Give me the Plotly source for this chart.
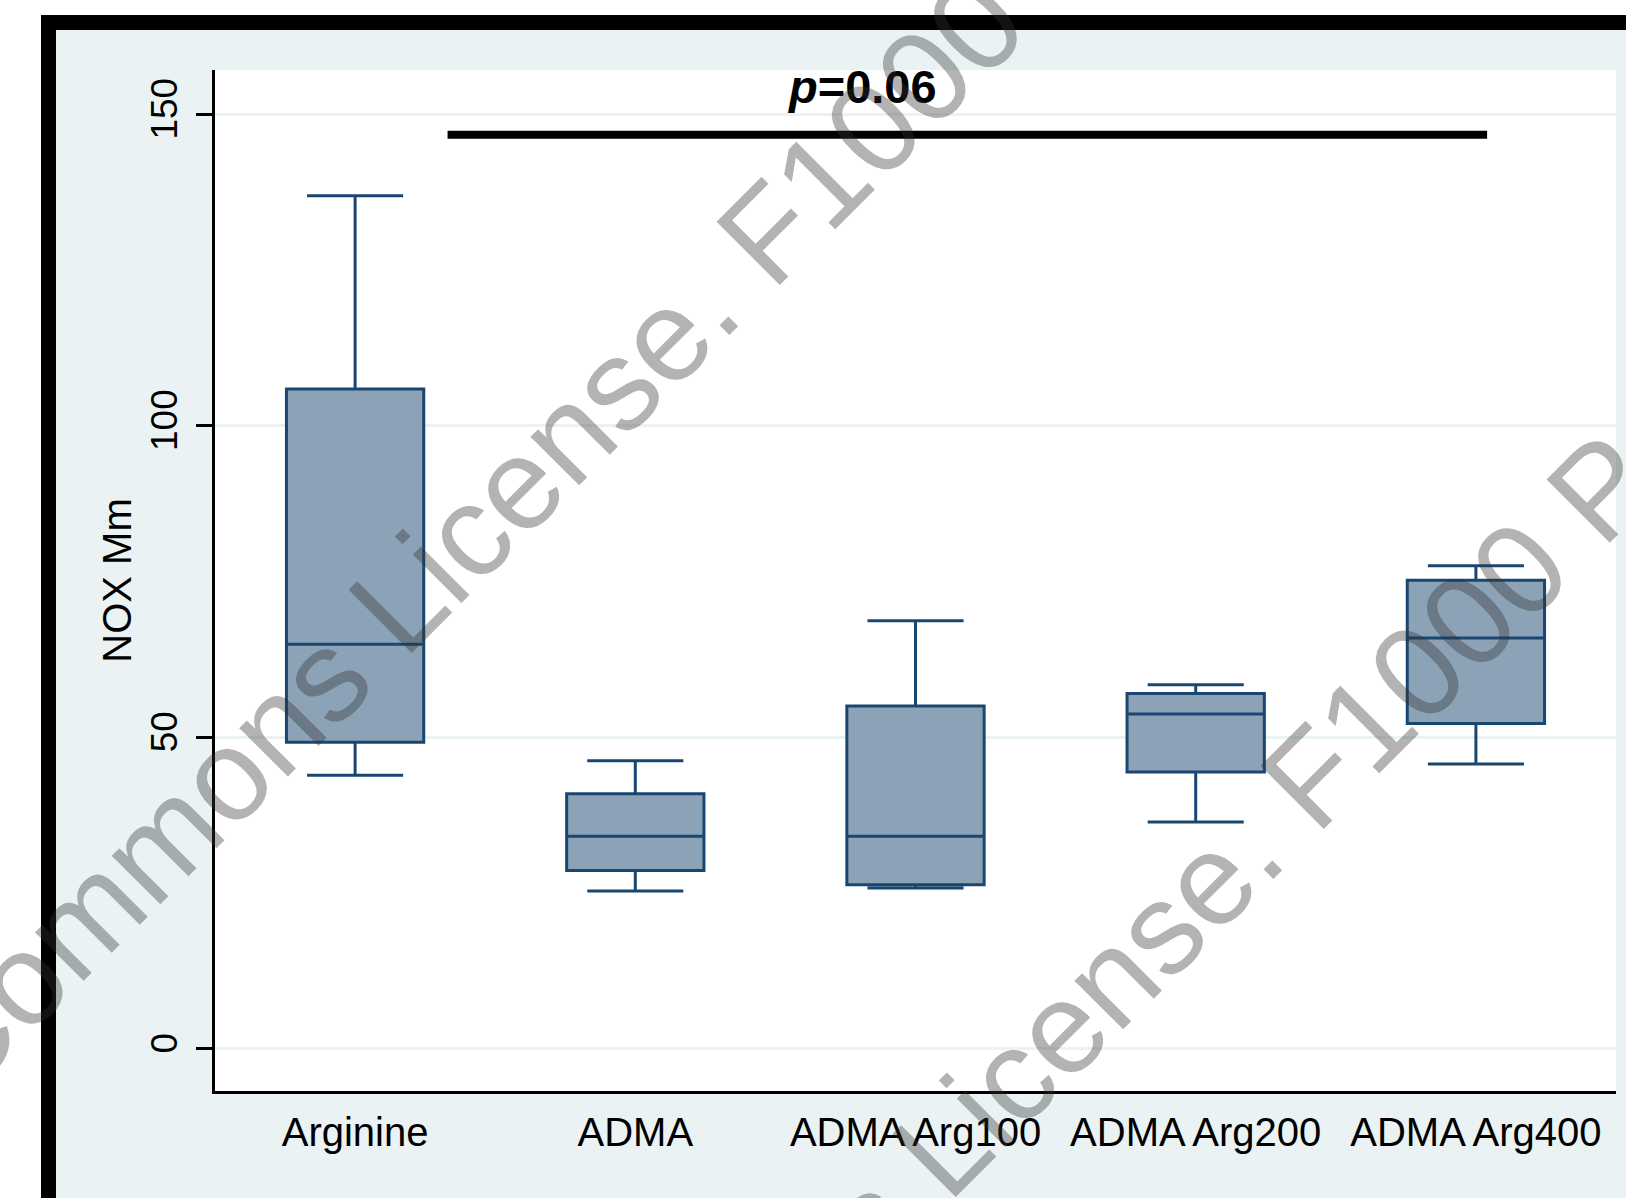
import plotly.graph_objects as go

# ---- data -------------------------------------------------------------
categories = ["Arginine", "ADMA", "ADMA Arg100", "ADMA Arg200", "ADMA Arg400"]
upper_whisker = [136.9, 46.2, 68.7, 58.4, 77.5]
q3_values = [105.9, 40.9, 55.0, 57.0, 75.2]
median_values = [64.9, 34.1, 34.1, 53.7, 65.9]
q1_values = [49.2, 28.6, 26.3, 44.4, 52.2]
lower_whisker = [43.9, 25.3, 25.8, 36.4, 45.7]

y_tick_values = [0, 50, 100, 150]
y_tick_labels = ["0", "50", "100", "150"]
y_title = "NOX Mm"

p_text = "<b><i>p</i>=0.06</b>"
p_bracket_x = [0.33, 4.04]     # category-index span of the comparison bar
p_bracket_y = 146.7
p_label_x = 1.81
p_label_y = 154.4

watermark_text = "Creative Commons License. F1000 Posters"

# ---- page geometry (pixels) -------------------------------------------
W, H = 1626, 1198
L, R, T, B = 215, 1616, 70, 1091          # plot-area edges


def paper_x(px):
    return (px - L) / (R - L)


def paper_y(py):
    return (B - py) / (B - T)


NAVY = "#1A476F"
FILL = "#8CA3B7"
REGION = "#EAF2F3"
FONT = "Liberation Sans, Arial, sans-serif"

fig = go.Figure()

fig.add_trace(go.Box(
    x=categories,
    q1=q1_values,
    median=median_values,
    q3=q3_values,
    lowerfence=lower_whisker,
    upperfence=upper_whisker,
    boxpoints=False,
    width=0.49,
    whiskerwidth=0.7,
    fillcolor=FILL,
    line=dict(color=NAVY, width=3),
    showlegend=False,
    hoverinfo="skip",
))

shapes = [
    # outer black frame
    dict(type="rect", xref="paper", yref="paper", layer="below",
         x0=paper_x(41), x1=paper_x(1800), y0=paper_y(1400), y1=paper_y(15),
         fillcolor="black", line=dict(width=0)),
    # graph region
    dict(type="rect", xref="paper", yref="paper", layer="below",
         x0=paper_x(56), x1=paper_x(1800), y0=paper_y(1400), y1=paper_y(30),
         fillcolor=REGION, line=dict(width=0)),
    # plot region
    dict(type="rect", xref="paper", yref="paper", layer="below",
         x0=0, x1=1, y0=0, y1=1, fillcolor="white", line=dict(width=0)),
    # comparison bar
    dict(type="line", xref="x", yref="y",
         x0=p_bracket_x[0], x1=p_bracket_x[1], y0=p_bracket_y, y1=p_bracket_y,
         line=dict(color="black", width=8)),
]

annotations = [
    dict(x=p_label_x, y=p_label_y, xref="x", yref="y", text=p_text,
         showarrow=False, xanchor="center", yanchor="middle",
         font=dict(family=FONT, size=47, color="black")),
]

# diagonal watermark lines
for cx, cy in [(449, 552), (993, 1096)]:
    annotations.append(dict(
        x=paper_x(cx), y=paper_y(cy), xref="paper", yref="paper",
        text=watermark_text, showarrow=False, textangle=-45,
        xanchor="center", yanchor="middle",
        font=dict(family=FONT, size=130, color="rgba(50,50,50,0.37)"),
    ))

fig.update_layout(
    width=W, height=H,
    margin=dict(l=L, r=W - R, t=T, b=H - B, pad=0),
    paper_bgcolor="white",
    plot_bgcolor="white",
    shapes=shapes,
    annotations=annotations,
    font=dict(family=FONT, color="black"),
)

fig.update_xaxes(
    type="category",
    range=[-0.5, 4.5],
    showline=True, linecolor="black", linewidth=3,
    ticks="", showgrid=False, zeroline=False,
    tickfont=dict(family=FONT, size=40, color="black"),
    ticklabelstandoff=4,
)

fig.update_yaxes(
    range=[-6.8, 157.1],
    tickvals=y_tick_values, ticktext=y_tick_labels,
    tickangle=-90,
    showline=True, linecolor="black", linewidth=3,
    ticks="outside", ticklen=16, tickwidth=3, tickcolor="black",
    showgrid=True, gridcolor=REGION, gridwidth=2.5,
    zeroline=False,
    tickfont=dict(family=FONT, size=37, color="black"),
    ticklabelstandoff=4,
    title=dict(text=y_title, font=dict(family=FONT, size=40, color="black"),
               standoff=1),
)

fig.write_html("out.html")
